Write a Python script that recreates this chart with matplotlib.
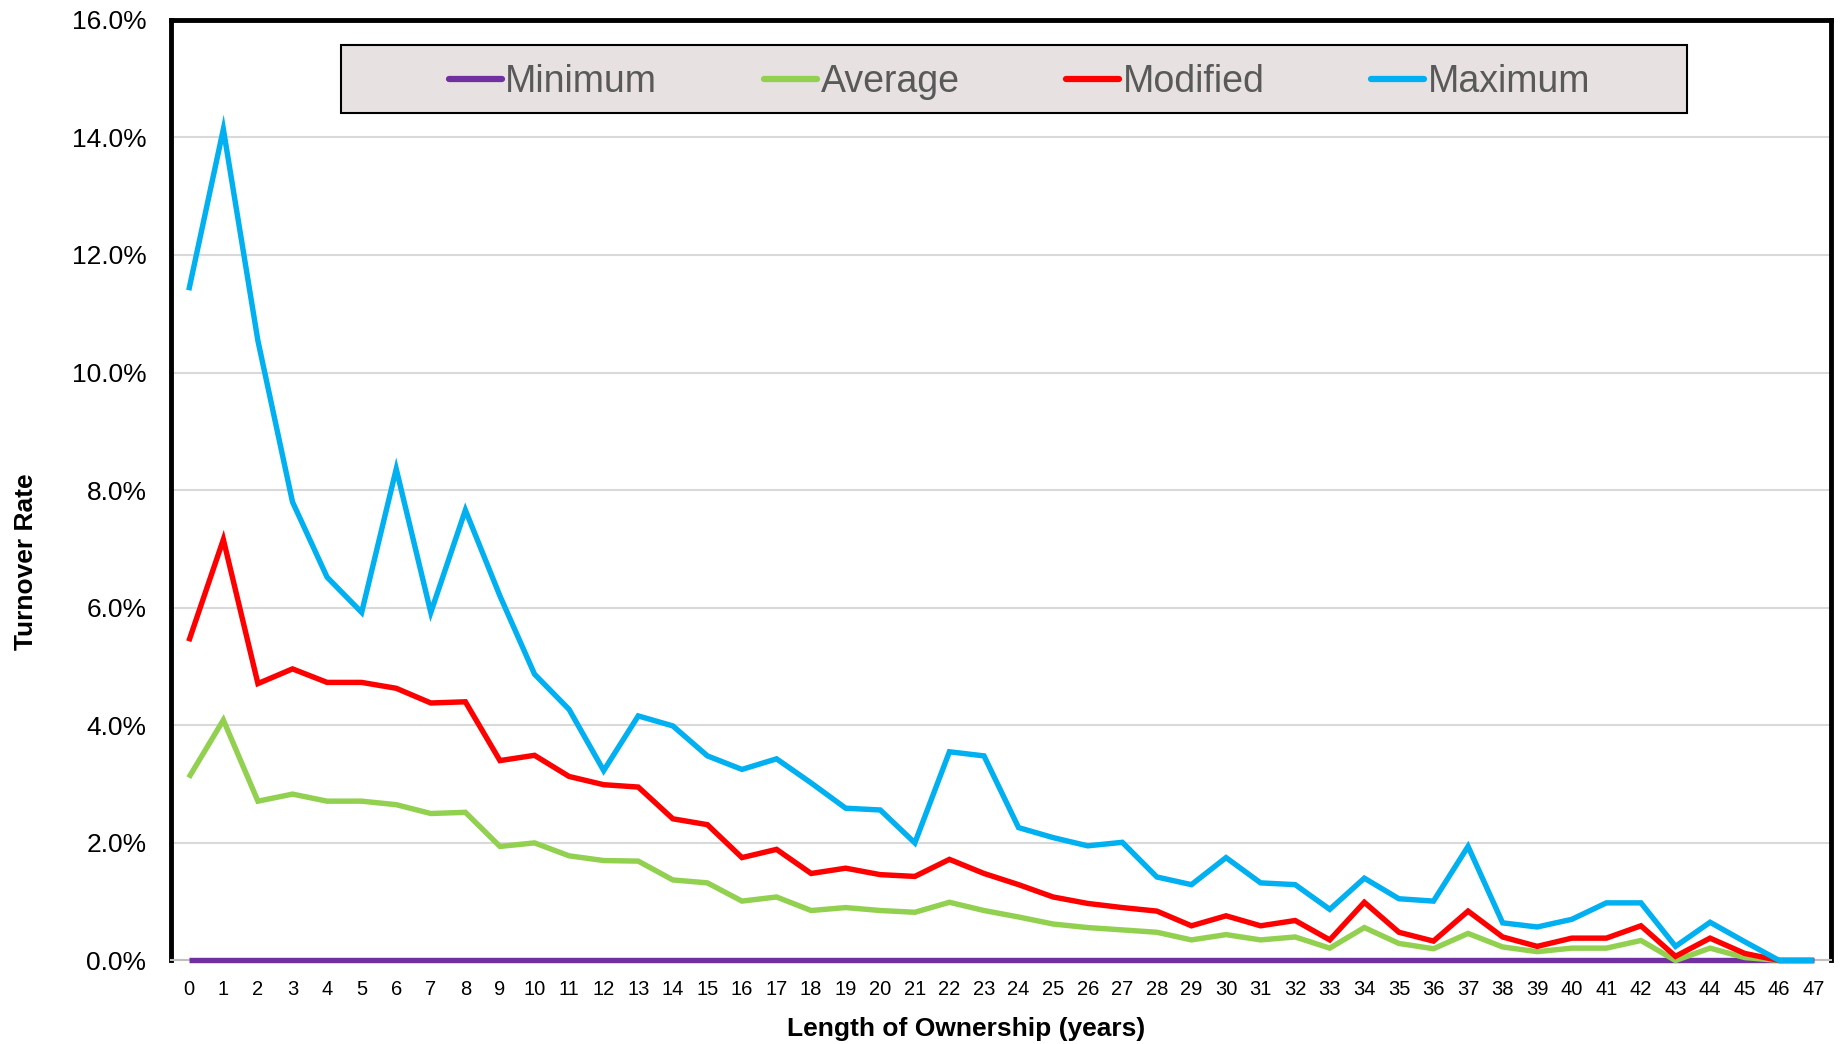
import matplotlib.pyplot as plt
from matplotlib.patches import Rectangle
from matplotlib.ticker import FuncFormatter

plt.rcParams['font.family'] = ['Liberation Sans', 'DejaVu Sans']

years = list(range(48))

minimum = [0.0] * 48
average = [3.11, 4.09, 2.71, 2.83, 2.71, 2.71, 2.65, 2.50, 2.52, 1.94,
           2.00, 1.78, 1.70, 1.69, 1.37, 1.32, 1.01, 1.08, 0.85, 0.90,
           0.85, 0.82, 0.99, 0.85, 0.74, 0.62, 0.56, 0.52, 0.48, 0.35,
           0.44, 0.35, 0.40, 0.21, 0.56, 0.29, 0.20, 0.46, 0.23, 0.15,
           0.21, 0.21, 0.34, 0.00, 0.21, 0.05, 0.00, 0.00]
modified = [5.43, 7.16, 4.71, 4.96, 4.73, 4.73, 4.63, 4.38, 4.40, 3.40,
            3.49, 3.13, 2.99, 2.95, 2.41, 2.31, 1.75, 1.89, 1.48, 1.57,
            1.46, 1.43, 1.72, 1.48, 1.29, 1.08, 0.97, 0.90, 0.84, 0.59,
            0.76, 0.59, 0.68, 0.35, 0.99, 0.48, 0.33, 0.84, 0.40, 0.24,
            0.38, 0.38, 0.59, 0.07, 0.38, 0.12, 0.00, 0.00]
maximum = [11.40, 14.14, 10.54, 7.80, 6.52, 5.92, 8.36, 5.92, 7.66, 6.20,
           4.87, 4.27, 3.23, 4.16, 3.99, 3.48, 3.25, 3.43, 3.02, 2.59,
           2.56, 2.00, 3.55, 3.48, 2.26, 2.09, 1.95, 2.01, 1.42, 1.29,
           1.75, 1.32, 1.29, 0.87, 1.40, 1.05, 1.01, 1.94, 0.64, 0.57,
           0.70, 0.98, 0.98, 0.24, 0.65, 0.32, 0.00, 0.00]

series = [("Minimum", minimum, "#7030A0"),
          ("Average", average, "#92D050"),
          ("Modified", modified, "#FF0000"),
          ("Maximum", maximum, "#00B0F0")]

fig = plt.figure(figsize=(18.44, 10.44), dpi=100)
ax = fig.add_axes([0.093, 0.080, 0.900, 0.901])

for name, vals, col in series:
    ax.plot(years, vals, color=col, lw=3.9, label=name, clip_on=False, zorder=3,
            solid_capstyle="butt", solid_joinstyle="miter")

ax.set_xlim(-0.5, 47.5)
ax.set_ylim(0, 16)
ax.set_yticks(range(0, 17, 2))
ax.yaxis.set_major_formatter(FuncFormatter(lambda v, p: f"{v:.1f}%"))
ax.set_xticks(years)
ax.tick_params(axis="y", length=0, pad=18, labelsize=19)
ax.tick_params(axis="x", length=0, pad=14, labelsize=14.5)
ax.grid(axis="y", color="#D9D9D9", lw=1.5)
ax.set_axisbelow(True)

for s in ["top", "left", "right"]:
    ax.spines[s].set_linewidth(3.5)
    ax.spines[s].set_color("black")
ax.spines["bottom"].set_color("#BFBFBF")
ax.spines["bottom"].set_linewidth(1.5)

# axis titles (placed like the original, slightly off-centre)
ax.text(0.479, -0.073, "Length of Ownership (years)", transform=ax.transAxes,
        ha="center", va="center", fontsize=19, fontweight="bold")
ax.text(-0.0875, 0.424, "Turnover Rate", transform=ax.transAxes, rotation=90,
        ha="center", va="center", fontsize=19, fontweight="bold")

# legend box
ax.add_patch(Rectangle((0.102, 0.901), 0.811, 0.072, transform=ax.transAxes,
                       facecolor="#E7E1E1", edgecolor="black", lw=1.5, zorder=5,
                       clip_on=False))
leg = ax.legend(loc="center", bbox_to_anchor=(0.511, 0.934), ncol=4, frameon=False,
                fontsize=27, handlelength=1.4, handletextpad=0.1, columnspacing=2.85,
                borderaxespad=0)
leg.set_zorder(6)
for t in leg.get_texts():
    t.set_color("#595959")
for h in leg.get_lines():
    h.set_linewidth(4.5)
    h.set_solid_capstyle("round")

fig.savefig("out.png", dpi=100)
